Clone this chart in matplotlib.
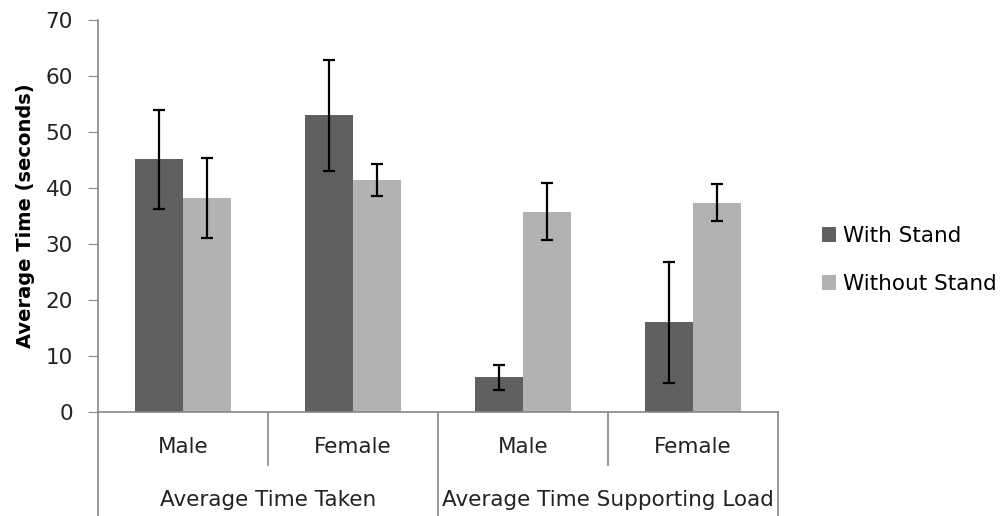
import numpy as np
import matplotlib.pyplot as plt

# data
groups = ['Average Time Taken', 'Average Time Supporting Load']
subcats = ['Male', 'Female', 'Male', 'Female']
with_stand = [45.1, 53.0, 6.2, 16.0]
with_err = [8.8, 9.9, 2.2, 10.8]
without_stand = [38.2, 41.4, 35.8, 37.4]
without_err = [7.1, 2.8, 5.1, 3.3]

plt.rcParams['font.family'] = ['DejaVu Sans']

fig = plt.figure(figsize=(10.03, 5.16), dpi=100)
ax = fig.add_axes([98 / 1003, 104 / 516, 680 / 1003, 392 / 516])

x = np.arange(len(subcats))
w = 0.285
err_kw = dict(ecolor='black', elinewidth=1.6, capsize=4.5, capthick=1.6)
ax.bar(x - w / 2, with_stand, w, yerr=with_err, color='#606060',
       label='With Stand', error_kw=err_kw)
ax.bar(x + w / 2, without_stand, w, yerr=without_err, color='#b2b2b2',
       label='Without Stand', error_kw=err_kw)

ax.set_xlim(-0.5, 3.5)
ax.set_ylim(0, 70)
ax.set_yticks(range(0, 71, 10))
ax.set_xticks([])
ax.tick_params(axis='y', length=7, color='#868686', labelsize=15.5, pad=11, labelcolor='#222222')
for s in ['top', 'right']:
    ax.spines[s].set_visible(False)
for s in ['left', 'bottom']:
    ax.spines[s].set_color('#868686')
    ax.spines[s].set_linewidth(1.2)

ax.set_ylabel('Average Time (seconds)', fontsize=14, fontweight='bold', labelpad=8)

# multi-level category axis
tr = ax.get_xaxis_transform()
for xi, lab in zip(x, subcats):
    ax.text(xi, -0.089, lab, transform=tr, ha='center', va='center', fontsize=15.5, color='#222222')
for xs in [0.5, 2.5]:
    ax.plot([xs, xs], [0, -0.135], transform=tr, color='#868686', lw=1.2, clip_on=False)
for xs in [-0.5, 1.5, 3.5]:
    ax.plot([xs, xs], [0, -0.265], transform=tr, color='#868686', lw=1.2, clip_on=False)
for gi, g in enumerate(groups):
    ax.text(gi * 2 + 0.5, -0.224, g, transform=tr, ha='center', va='center', fontsize=15.5, color='#222222')

ax.legend(loc='center left', bbox_to_anchor=(1.065, 0.388), frameon=False, fontsize=15.5,
          handlelength=0.65, handleheight=0.65, handletextpad=0.3, labelspacing=1.3,
          borderpad=0, borderaxespad=0)

plt.savefig('out.png', dpi=100)
